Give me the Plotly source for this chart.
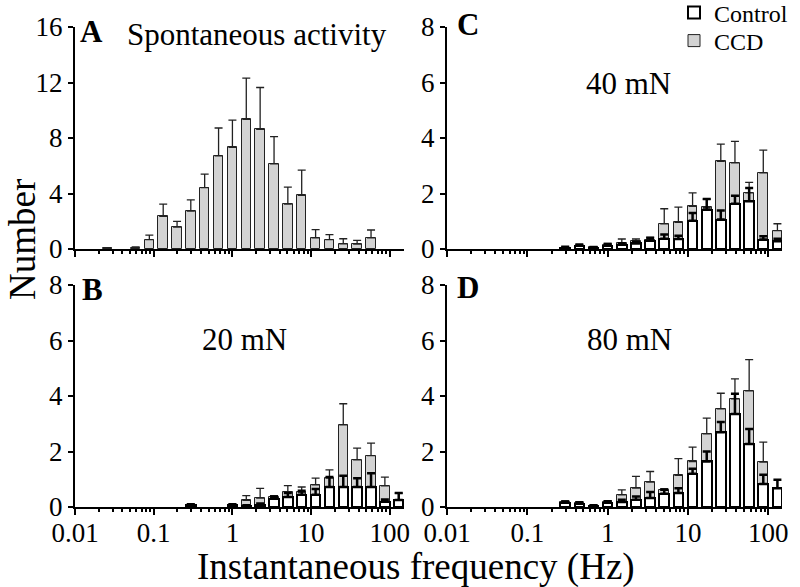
import numpy as np
import plotly.graph_objects as go

# ---------------- data ----------------
# bin centres (Hz), log-spaced bins
HZ_A = [0.026, 0.039, 0.059, 0.088, 0.132, 0.198, 0.296, 0.444, 0.667, 1.0,
        1.5, 2.25, 3.38, 5.06, 7.59, 11.4, 17.1, 25.6, 38.4, 57.7]
HZ_BCD = [0.296, 0.444, 0.667, 1.0, 1.5, 2.25, 3.38, 5.06, 7.59, 11.4,
          17.1, 25.6, 38.4, 57.7, 86.5, 129.7]

# Panel A: spontaneous activity (CCD only)
spont_mean = [0.05, None, 0.1, 0.67, 2.35, 1.58, 2.73, 4.43, 6.71, 7.33,
              9.34, 8.62, 6.13, 3.23, 3.86, 0.81, 0.67, 0.38, 0.36, 0.81]
spont_sem = [0.03, None, 0.05, 0.33, 0.88, 0.41, 0.81, 0.96, 2.01, 1.96,
             2.97, 3.02, 1.97, 1.23, 1.82, 0.58, 0.36, 0.36, 0.26, 0.56]

# Panel B: 20 mN
ccd_B = [0.07, None, None, 0.07, 0.24, 0.32, 0.36, 0.53, 0.53, 0.80,
         1.04, 2.96, 1.70, 1.85, 0.76, 0.25]
ccd_B_sem = [0.03, None, None, 0.03, 0.17, 0.35, 0.05, 0.24, 0.19, 0.24,
             0.30, 0.76, 0.42, 0.45, 0.32, 0.25]
ctl_B = [0.07, None, None, 0.07, 0.03, 0.08, 0.30, 0.36, 0.44, 0.44,
         0.72, 0.72, 0.72, 0.72, 0.19, 0.25]
ctl_B_sem = [0.03, None, None, 0.03, 0.03, 0.05, 0.08, 0.14, 0.15, 0.21,
             0.36, 0.41, 0.32, 0.50, 0.08, 0.25]

# Panel C: 40 mN
ccd_C = [0.05, 0.12, 0.06, 0.15, 0.20, 0.28, 0.34, 0.91, 0.96, 1.54,
         1.50, 3.16, 3.10, 2.02, 2.74, 0.66]
ccd_C_sem = [0.03, 0.04, 0.03, 0.05, 0.16, 0.08, 0.09, 0.54, 0.55, 0.48,
             0.30, 0.62, 0.78, 0.38, 0.82, 0.25]
ctl_C = [0.05, 0.12, 0.04, 0.12, 0.15, 0.20, 0.30, 0.37, 0.36, 1.02,
         1.42, 1.06, 1.63, 1.72, 0.34, 0.28]
ctl_C_sem = [0.03, 0.04, 0.02, 0.06, 0.06, 0.06, 0.10, 0.15, 0.12, 0.28,
             0.38, 0.33, 0.29, 0.48, 0.12, 0.09]

# Panel D: 80 mN
ccd_D = [0.17, 0.14, 0.05, 0.18, 0.44, 0.68, 0.90, 0.62, 1.14, 1.64,
         2.64, 3.54, 3.90, 4.19, 1.62, None]
ccd_D_sem = [0.05, 0.05, 0.03, 0.05, 0.18, 0.42, 0.38, 0.04, 0.60, 0.52,
             0.56, 0.56, 0.72, 1.12, 0.72, None]
ctl_D = [0.15, 0.12, 0.04, 0.16, 0.18, 0.26, 0.32, 0.48, 0.50, 1.20,
         1.64, 2.69, 3.35, 2.27, 0.83, 0.68]
ctl_D_sem = [0.05, 0.05, 0.02, 0.05, 0.08, 0.12, 0.22, 0.14, 0.18, 0.18,
             0.36, 0.37, 0.73, 0.54, 0.33, 0.30]

TICK_VALS = [0.01, 0.1, 1, 10, 100]
TICK_TEXT = ["0.01", "0.1", "1", "10", "100"]

# ---------------- style ----------------
FONT = "Liberation Serif"
GREY = "#d3d3d3"
W, H = 800, 587
BAR_W = 0.12


def px_x(p):
    return p / W


def px_y(p):
    return 1 - p / H


fig = go.Figure()


def zero_list(v):
    return [0 if a is not None else None for a in v]


def add_ccd(hz, mean, sem, xa, ya, legend=None):
    fig.add_trace(go.Bar(
        x=np.log10(hz), y=mean, width=BAR_W, name="CCD",
        marker=dict(color=GREY, line=dict(color="#222", width=1)),
        error_y=dict(type="data", array=sem, arrayminus=zero_list(sem),
                     symmetric=False, color="#222", thickness=1.3, width=4),
        xaxis=xa, yaxis=ya, showlegend=legend is not None,
        legend=legend or "legend"))


def add_ctl(hz, mean, sem, xa, ya, legend=None):
    fig.add_trace(go.Bar(
        x=np.log10(hz), y=mean, width=BAR_W, name="Control",
        marker=dict(color="white", line=dict(color="black", width=2)),
        error_y=dict(type="data", array=sem, arrayminus=zero_list(sem),
                     symmetric=False, color="black", thickness=2.5, width=4),
        xaxis=xa, yaxis=ya, showlegend=legend is not None,
        legend=legend or "legend"))


add_ccd(HZ_A, spont_mean, spont_sem, "x", "y")
add_ccd(HZ_BCD, ccd_C, ccd_C_sem, "x2", "y2", legend="legend2")
add_ctl(HZ_BCD, ctl_C, ctl_C_sem, "x2", "y2", legend="legend")
add_ccd(HZ_BCD, ccd_B, ccd_B_sem, "x3", "y3")
add_ctl(HZ_BCD, ctl_B, ctl_B_sem, "x3", "y3")
add_ccd(HZ_BCD, ccd_D, ccd_D_sem, "x4", "y4")
add_ctl(HZ_BCD, ctl_D, ctl_D_sem, "x4", "y4")

minor_vals = [float(np.log10(m * 10.0 ** d)) for d in range(-2, 2) for m in range(2, 10)]
tickfont = dict(family=FONT, size=27, color="black")


def xaxis(domain, anchor, labels, rng):
    return dict(domain=domain, anchor=anchor, range=rng, showline=True,
                linecolor="black", linewidth=2, ticks="outside", ticklen=6,
                tickwidth=2, tickcolor="black",
                tickvals=list(np.log10(TICK_VALS)), ticktext=TICK_TEXT,
                showticklabels=labels, tickfont=tickfont, ticklabelstandoff=-5,
                minor=dict(tickvals=minor_vals, ticks="outside", ticklen=3,
                           tickwidth=1.5, tickcolor="black"),
                showgrid=False, zeroline=False, automargin=False, fixedrange=True)


def yaxis(domain, anchor, rng, dtick):
    return dict(domain=domain, anchor=anchor, range=rng, showline=True,
                linecolor="black", linewidth=2, ticks="outside", ticklen=5,
                tickwidth=2, tickcolor="black", dtick=dtick, tick0=0,
                tickfont=tickfont, showgrid=False, zeroline=False,
                automargin=False, fixedrange=True)


xL = [px_x(75), px_x(404)]
xR = [px_x(447), px_x(782)]
yT = [px_y(249), px_y(27)]
yB = [px_y(507), px_y(285)]
rngL = [-2.0, 2.18]
rngR = [-2.0, 2.17]

legfont = dict(family=FONT, size=24, color="black")
fig.update_layout(
    width=W, height=H, margin=dict(l=0, r=0, t=0, b=0, autoexpand=False),
    paper_bgcolor="white", plot_bgcolor="white",
    barmode="overlay", bargap=0,
    font=dict(family=FONT, color="black"),
    xaxis=xaxis(xL, "y", False, rngL), yaxis=yaxis(yT, "x", [0, 16], 4),
    xaxis2=xaxis(xR, "y2", False, rngR), yaxis2=yaxis(yT, "x2", [0, 8], 2),
    xaxis3=xaxis(xL, "y3", True, rngL), yaxis3=yaxis(yB, "x3", [0, 8], 2),
    xaxis4=xaxis(xR, "y4", True, rngR), yaxis4=yaxis(yB, "x4", [0, 8], 2),
    legend=dict(x=px_x(674), y=px_y(13), xanchor="left", yanchor="middle",
                font=legfont, bgcolor="rgba(0,0,0,0)", itemwidth=30),
    legend2=dict(x=px_x(674), y=px_y(41), xanchor="left", yanchor="middle",
                 font=legfont, bgcolor="rgba(0,0,0,0)", itemwidth=30),
)


def ann(text, x, y, size, bold=False):
    fig.add_annotation(text=f"<b>{text}</b>" if bold else text,
                       x=px_x(x), y=px_y(y), xref="paper", yref="paper",
                       xanchor="center", yanchor="middle", showarrow=False,
                       font=dict(family=FONT, size=size, color="black"))


ann("A", 91, 31, 31, bold=True)
ann("Spontaneous activity", 257, 34, 31)
ann("C", 468, 24, 31, bold=True)
ann("40 mN", 628, 83, 31)
ann("B", 92, 289, 31, bold=True)
ann("20 mN", 244, 339, 31)
ann("D", 468, 287, 31, bold=True)
ann("80 mN", 629, 339, 31)
ann("Instantaneous frequency (Hz)", 416, 567, 37)
fig.add_annotation(text="Number", x=px_x(22), y=px_y(240), xref="paper", yref="paper",
                   xanchor="center", yanchor="middle", showarrow=False, textangle=-90,
                   font=dict(family=FONT, size=37, color="black"))

fig.write_html("out.html", config={"displayModeBar": False},
               post_script="document.body.style.margin='0';document.body.style.overflow='hidden';")
